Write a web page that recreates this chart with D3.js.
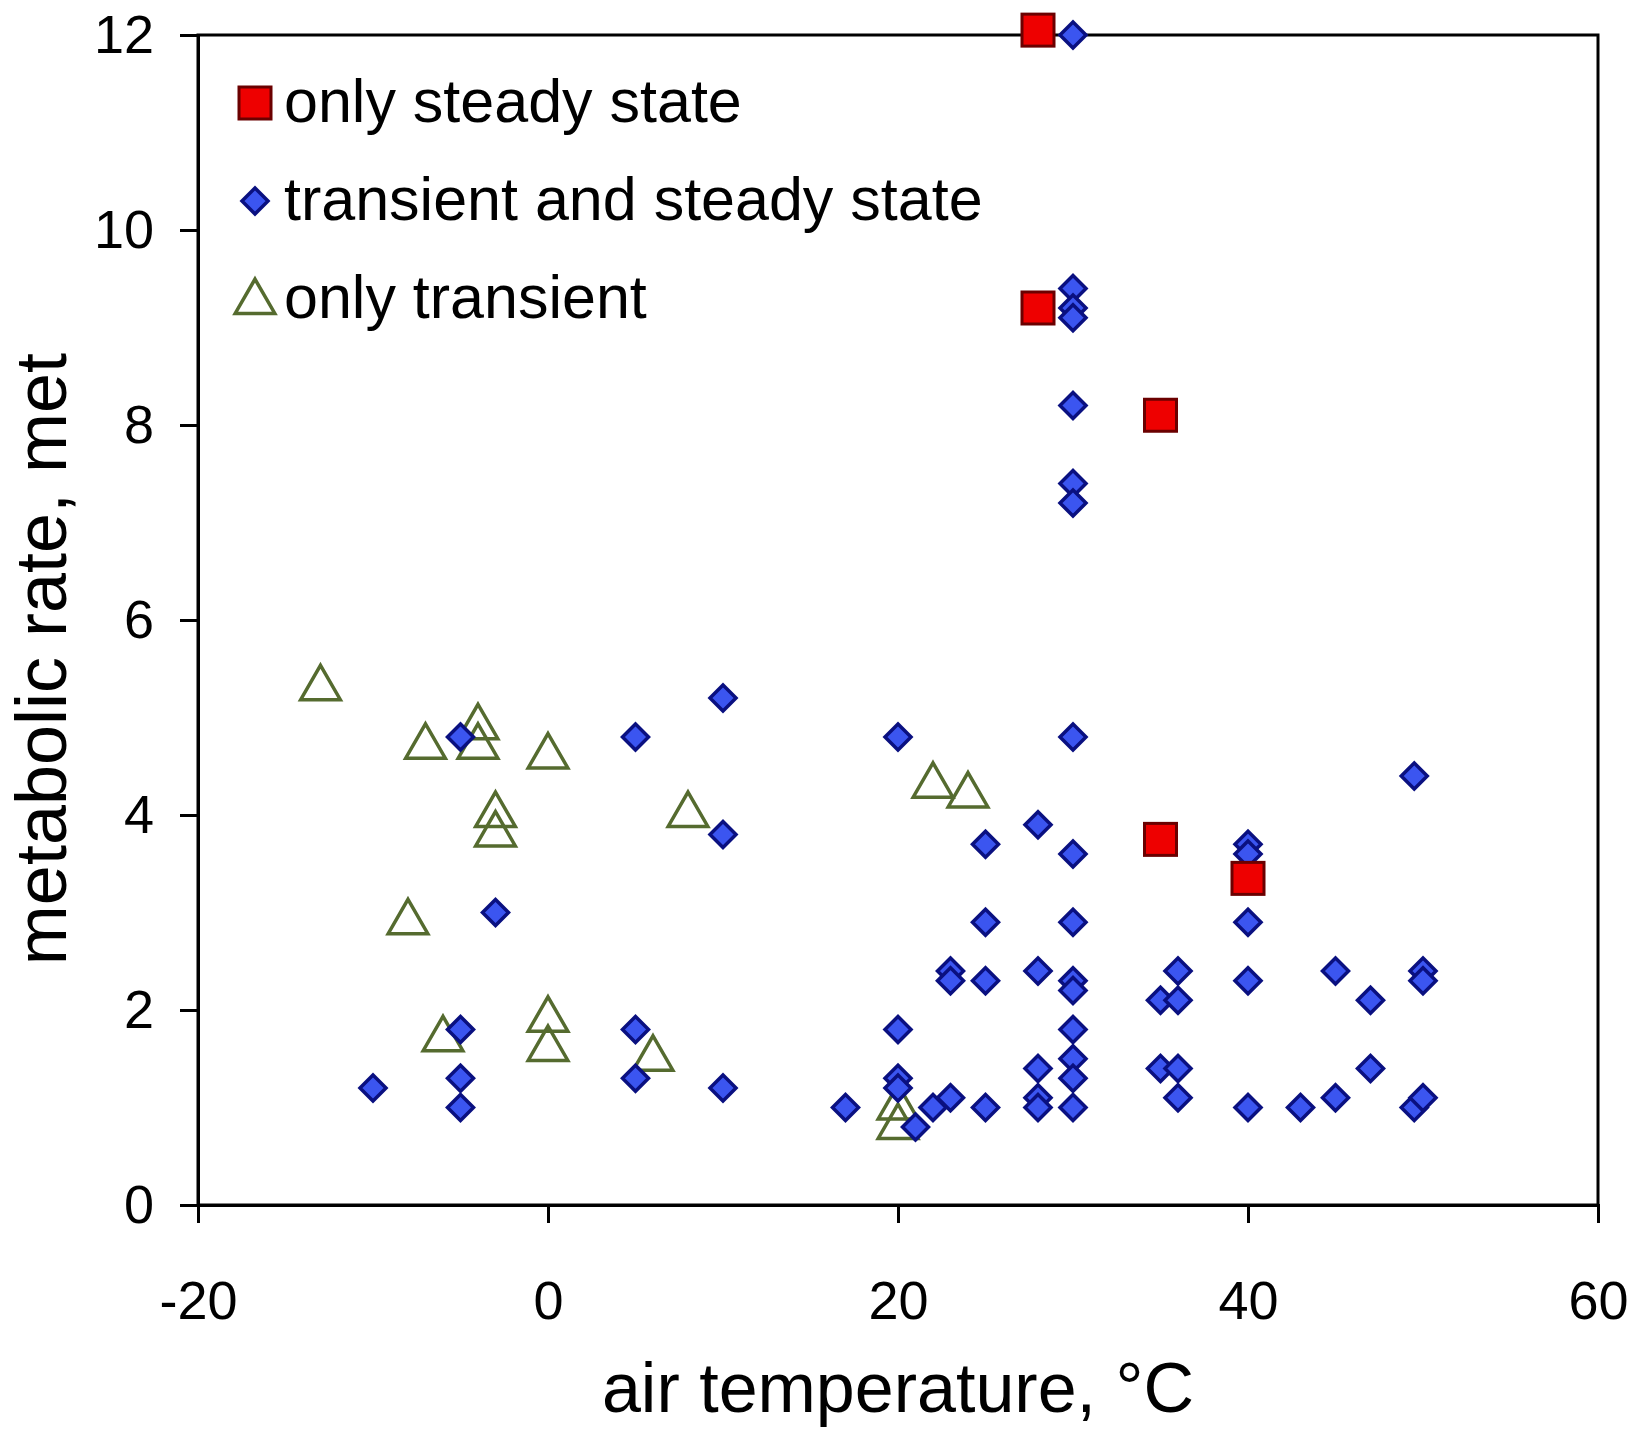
<!DOCTYPE html>
<html><head><meta charset="utf-8">
<script src="https://cdn.jsdelivr.net/npm/d3@7"></script>
<style>body{margin:0;background:#fff}</style>
</head><body>
<script>
// only steady state
const steadyX = [28, 28, 35, 35, 40];
const steadyY = [12.05, 9.2, 8.1, 3.75, 3.35];
// transient and steady state
const bothX = [-10, -5, -5, -5, -5, -3, 5, 5, 5, 10, 10, 10, 17, 20, 20, 20, 20, 21, 22, 23, 23, 23,
  25, 25, 25, 25, 28, 28, 28, 28, 28,
  30, 30, 30, 30, 30, 30, 30, 30, 30, 30, 30, 30, 30, 30, 30, 30,
  35, 35, 36, 36, 36, 36, 40, 40, 40, 40, 40, 43, 45, 45, 47, 47, 49.5, 49.5, 50, 50, 50];
const bothY = [1.2, 4.8, 1.8, 1.3, 1.0, 3.0, 4.8, 1.8, 1.3, 5.2, 3.8, 1.2, 1.0, 4.8, 1.8, 1.3, 1.2, 0.8, 1.0, 1.1, 2.4, 2.3,
  3.7, 2.9, 2.3, 1.0, 3.9, 2.4, 1.4, 1.1, 1.0,
  12.0, 9.4, 9.2, 9.1, 8.2, 7.4, 7.2, 4.8, 3.6, 2.9, 2.3, 2.2, 1.8, 1.5, 1.3, 1.0,
  2.1, 1.4, 2.4, 2.1, 1.4, 1.1, 3.7, 3.6, 2.9, 2.3, 1.0, 1.0, 2.4, 1.1, 2.1, 1.4, 4.4, 1.0, 2.4, 2.3, 1.1];
// only transient
const transX = [-13, -7, -4, -4, 0, -3, -3, 8, -8, -6, 0, 0, 6, 22, 24, 20, 20];
const transY = [5.3, 4.7, 4.9, 4.7, 4.6, 4.0, 3.8, 4.0, 2.9, 1.7, 1.9, 1.6, 1.5, 4.3, 4.2, 1.0, 0.8];
const xTicks = [-20, 0, 20, 40, 60];
const yTicks = [0, 2, 4, 6, 8, 10, 12];

const width = 1632, height = 1429;
const m = {left: 198, right: 34, top: 35, bottom: 224};
const x = d3.scaleLinear([-20, 60], [m.left, width - m.right]);
const y = d3.scaleLinear([0, 12], [height - m.bottom, m.top]);
const font = "Liberation Sans, Arial, sans-serif";

const svg = d3.select("body").append("svg").attr("width", width).attr("height", height);

svg.append("rect").attr("x", m.left).attr("y", m.top)
  .attr("width", x(60) - x(-20)).attr("height", y(0) - y(12))
  .attr("fill", "none").attr("stroke", "#000").attr("stroke-width", 3);

svg.append("g").attr("transform", `translate(0,${y(0)})`)
  .call(d3.axisBottom(x).tickValues(xTicks).tickSize(18).tickPadding(58))
  .call(g => g.select(".domain").attr("stroke-width", 3))
  .call(g => g.selectAll(".tick line").attr("stroke-width", 3))
  .call(g => g.selectAll("text").attr("font-family", font).attr("font-size", 54).attr("fill", "#000")
    .text(d => d < 0 ? "-" + Math.abs(d) : d));

svg.append("g").attr("transform", `translate(${m.left},0)`)
  .call(d3.axisLeft(y).tickValues(yTicks).tickSize(18).tickPadding(26))
  .call(g => g.select(".domain").attr("stroke-width", 3))
  .call(g => g.selectAll(".tick line").attr("stroke-width", 3))
  .call(g => g.selectAll("text").attr("font-family", font).attr("font-size", 54).attr("fill", "#000"));

svg.append("text").attr("x", (x(-20) + x(60)) / 2).attr("y", 1412)
  .attr("text-anchor", "middle").attr("font-family", font).attr("font-size", 70).text("air temperature, °C");
svg.append("text").attr("transform", `translate(66,${(y(0) + y(12)) / 2 + 39}) rotate(-90)`)
  .attr("text-anchor", "middle").attr("font-family", font).attr("font-size", 72).text("metabolic rate, met");

const tri = d3.symbol(d3.symbolTriangle, 680);
const dia = (s) => `M0,${-s}L${s},0L0,${s}L${-s},0Z`;

svg.append("g").selectAll("path").data(d3.range(transX.length)).join("path")
  .attr("transform", i => `translate(${x(transX[i])},${y(transY[i])})`)
  .attr("d", tri).attr("fill", "none").attr("stroke", "#556b2f").attr("stroke-width", 3.5);

svg.append("g").selectAll("path").data(d3.range(bothX.length)).join("path")
  .attr("transform", i => `translate(${x(bothX[i])},${y(bothY[i])})`)
  .attr("d", dia(13)).attr("fill", "#3b55f0").attr("stroke", "#0a1080").attr("stroke-width", 3.5);

svg.append("g").selectAll("rect").data(d3.range(steadyX.length)).join("rect")
  .attr("x", i => x(steadyX[i]) - 16).attr("y", i => y(steadyY[i]) - 16)
  .attr("width", 32).attr("height", 32)
  .attr("fill", "#ee0000").attr("stroke", "#6b0000").attr("stroke-width", 3);

// legend
const lg = svg.append("g").attr("font-family", font).attr("font-size", 61);
lg.append("rect").attr("x", 239).attr("y", 87).attr("width", 32).attr("height", 32)
  .attr("fill", "#ee0000").attr("stroke", "#6b0000").attr("stroke-width", 3);
lg.append("text").attr("x", 284).attr("y", 122).text("only steady state");
lg.append("path").attr("transform", "translate(255,201)").attr("d", dia(13))
  .attr("fill", "#3b55f0").attr("stroke", "#0a1080").attr("stroke-width", 3.5);
lg.append("text").attr("x", 284).attr("y", 220).text("transient and steady state");
lg.append("path").attr("transform", "translate(255,302)").attr("d", tri)
  .attr("fill", "none").attr("stroke", "#556b2f").attr("stroke-width", 3.5);
lg.append("text").attr("x", 284).attr("y", 318).text("only transient");
</script>
</body></html>
